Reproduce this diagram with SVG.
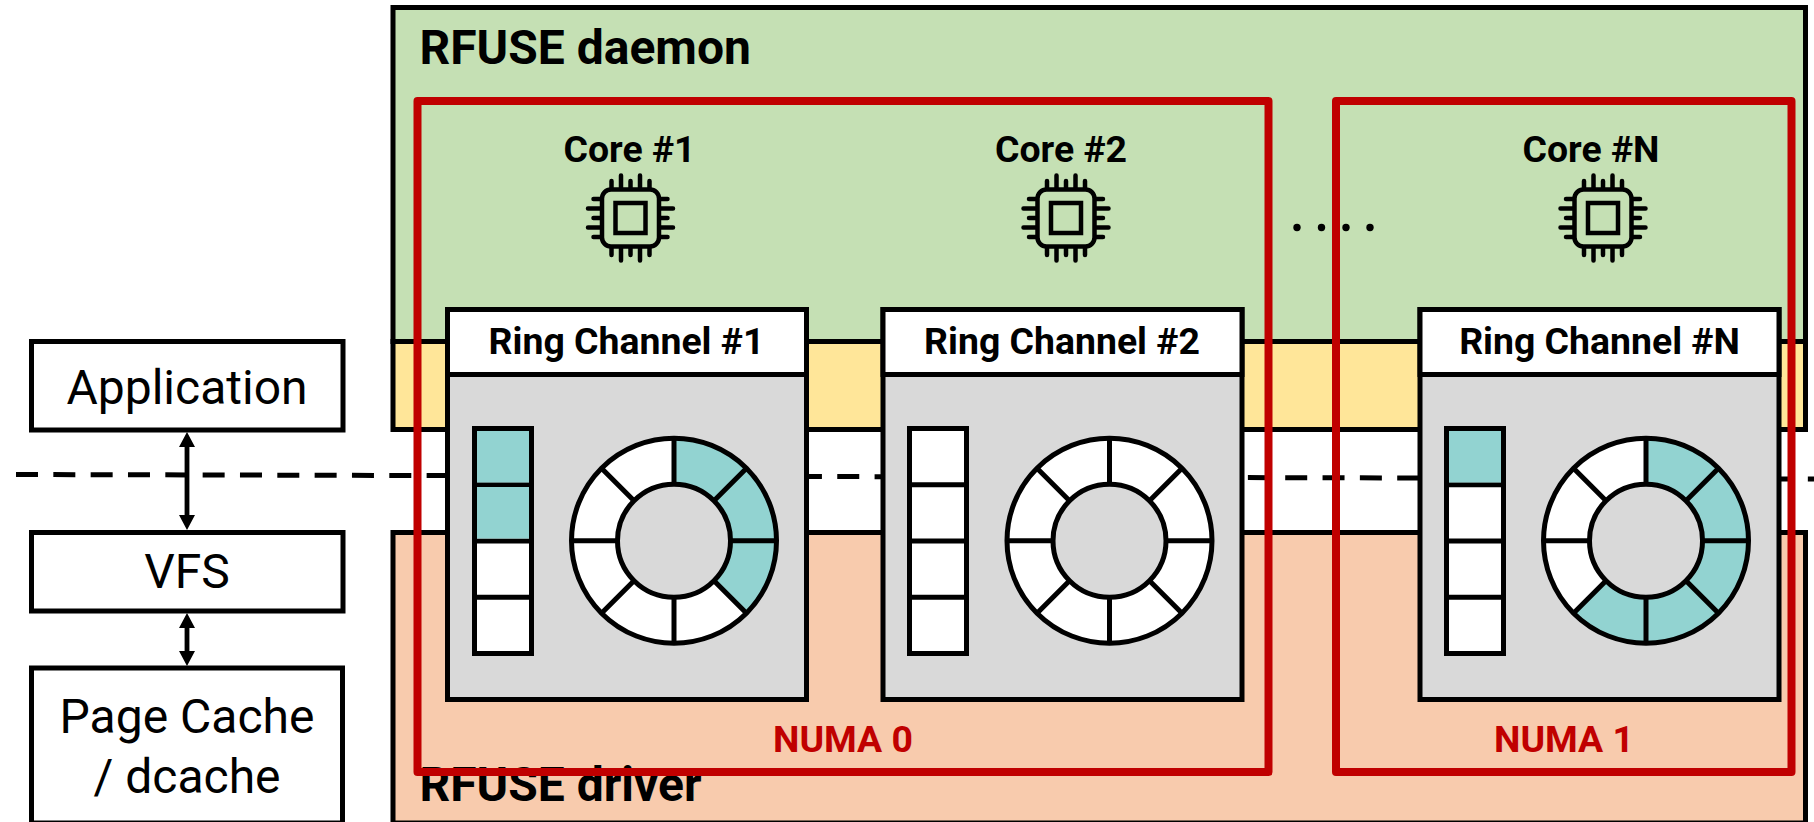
<svg xmlns="http://www.w3.org/2000/svg" xmlns:xlink="http://www.w3.org/1999/xlink" width="1814" height="822" viewBox="0 0 1814 822">
<style>
text{font-family:Roboto,"Liberation Sans",sans-serif;fill:#000}
.b{font-weight:700;font-size:37.400px;text-anchor:middle}
.r{font-size:48px;text-anchor:middle}
.t{font-weight:700;font-size:48px}
.n{font-weight:700;font-size:37.400px;text-anchor:middle;fill:#C00000}
.s{stroke:#000;stroke-width:5}
.w{fill:#fff}.g{fill:#D9D9D9}.c{fill:#92D3D1}
.num{fill:none;stroke:#C00000;stroke-width:8;stroke-linejoin:round}
.p{fill:none;stroke:#000;stroke-width:4.500;stroke-linecap:round}
</style>
<defs>
<g id="chip">
<rect x="-28.500" y="-28.500" width="57" height="57" rx="9" fill="none" stroke="#000" stroke-width="4.500"/>
<rect x="-15" y="-15" width="30" height="30" fill="none" stroke="#000" stroke-width="4.500"/>
<path class="p" d="M-19-30V-37M0-30V-37M19-30V-37M-9.500-30V-42.500M9.500-30V-42.500M-19 30V37M0 30V37M19 30V37M-9.500 30V42.500M9.500 30V42.500M-30-19H-37M-30 0H-37M-30 19H-37M-30-9.500H-42.500M-30 9.500H-42.500M30-19H37M30 0H37M30 19H37M30-9.500H42.500M30 9.500H42.500"/>
</g>
<g id="chan">
<rect class="g s" x="0" y="0" width="359" height="390"/>
<rect class="w s" x="0" y="0" width="359" height="65"/>
</g>
<g id="col">
<rect class="w s" x="0" y="0" width="57" height="225"/>
<path class="s" d="M0 56.250H57M0 112.500H57M0 168.750H57"/>
</g>
<circle id="ring-base" class="w" r="102.500"/>
<path id="wedge" class="c" d="M0 0V-102.500A102.500 102.500 0 0 1 72.480-72.480Z"/>
<g id="ring-top">
<circle class="s" r="102.500" fill="none"/>
<path class="s" d="M0-102.500V-56.500M0 102.500V56.500M-102.500 0H-56.500M102.500 0H56.500M72.500-72.500L40-40M-72.500-72.500L-40-40M72.500 72.500L40 40M-72.500 72.500L-40 40"/>
<circle class="g s" r="56.500"/>
</g>
</defs>
<g id="rfuse-driver">
<rect x="393" y="532.500" width="1412.500" height="290.500" fill="#F8CBAD" class="s"/>
<text class="t" x="419.500" y="800.500">RFUSE driver</text>
</g>
<g id="rfuse-daemon">
<rect x="393" y="341.500" width="1412.500" height="88" fill="#FFE699" class="s"/>
<rect x="393" y="7.500" width="1412.500" height="334" fill="#C5E0B4" class="s"/>
<text class="t" x="419.500" y="64">RFUSE daemon</text>
</g>
<g id="connectors" fill="#000" stroke="none">
<path d="M16 474.500L1814 479" fill="none" stroke="#000" stroke-width="5" stroke-dasharray="22 15.330"/>
<path d="M187 432L195 447H189.400V515H195L187 530L179 515H184.600V447H179Z"/>
<path d="M187 613L195 628H189.400V651H195L187 666L179 651H184.600V628H179Z"/>
</g>
<g id="application"><rect class="w s" x="31.500" y="341.500" width="311.500" height="88.500"/><text class="r" x="187" y="404">Application</text></g>
<g id="vfs"><rect class="w s" x="31.500" y="532.500" width="311.500" height="78.500"/><text class="r" x="187" y="588">VFS</text></g>
<g id="page-cache"><rect class="w s" x="31.500" y="668" width="311" height="155"/><text class="r" x="187" y="733">Page Cache</text><text class="r" x="187" y="792.500">/ dcache</text></g>
<g id="core-1"><text class="b" x="629.500" y="162">Core #1</text><use xlink:href="#chip" x="630.500" y="218"/></g>
<g id="core-2"><text class="b" x="1061" y="162">Core #2</text><use xlink:href="#chip" x="1066" y="218"/></g>
<g id="core-n"><text class="b" x="1591" y="162">Core #N</text><use xlink:href="#chip" x="1603" y="218"/></g>
<g id="ellipsis" fill="#000"><circle cx="1297" cy="227.500" r="3.700"/><circle cx="1321.500" cy="227.500" r="3.700"/><circle cx="1346" cy="227.500" r="3.700"/><circle cx="1370" cy="227.500" r="3.700"/></g>
<g id="channel-1">
<use xlink:href="#chan" x="447.500" y="309.500"/>
<text class="b" x="626.500" y="354">Ring Channel #1</text>
<use xlink:href="#col" x="474.500" y="428.500"/>
<rect class="c" x="477" y="431" width="52" height="51.500"/><rect class="c" x="477" y="487" width="52" height="51.500"/>
<use xlink:href="#ring-base" x="674" y="540.700"/>
<g transform="translate(674 540.700)"><use xlink:href="#wedge"/><use xlink:href="#wedge" transform="rotate(45)"/><use xlink:href="#wedge" transform="rotate(90)"/></g>
<use xlink:href="#ring-top" x="674" y="540.700"/>
</g>
<g id="channel-2">
<use xlink:href="#chan" x="883" y="309.500"/>
<text class="b" x="1062" y="354">Ring Channel #2</text>
<use xlink:href="#col" x="909.500" y="428.500"/>
<use xlink:href="#ring-base" x="1109.500" y="540.700"/>
<use xlink:href="#ring-top" x="1109.500" y="540.700"/>
</g>
<g id="channel-n">
<use xlink:href="#chan" x="1420" y="309.500"/>
<text class="b" x="1599.500" y="354">Ring Channel #N</text>
<use xlink:href="#col" x="1446.500" y="428.500"/>
<rect class="c" x="1449" y="431" width="52" height="51.500"/>
<use xlink:href="#ring-base" x="1646" y="540.700"/>
<g transform="translate(1646 540.700)"><use xlink:href="#wedge"/><use xlink:href="#wedge" transform="rotate(45)"/><use xlink:href="#wedge" transform="rotate(90)"/><use xlink:href="#wedge" transform="rotate(135)"/><use xlink:href="#wedge" transform="rotate(180)"/></g>
<use xlink:href="#ring-top" x="1646" y="540.700"/>
</g>
<g id="numa-0"><rect class="num" x="417.500" y="101" width="851" height="671"/><text class="n" x="843" y="752">NUMA 0</text></g>
<g id="numa-1"><rect class="num" x="1336" y="101" width="455.500" height="671"/><text class="n" x="1564" y="752">NUMA 1</text></g>
</svg>
